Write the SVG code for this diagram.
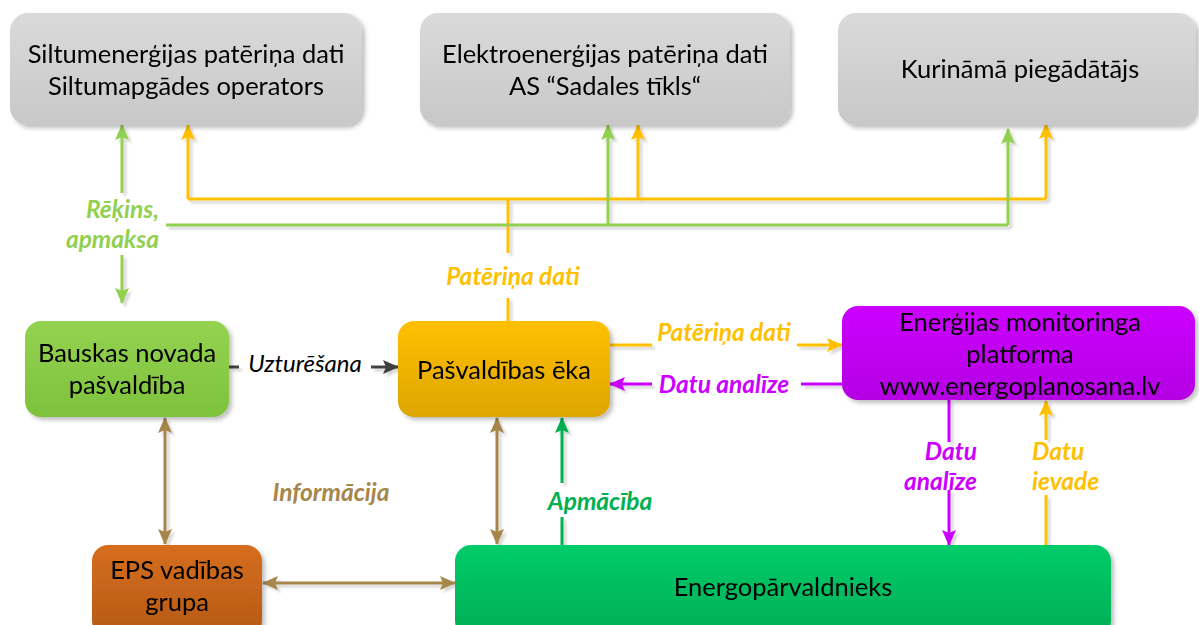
<svg xmlns="http://www.w3.org/2000/svg" width="1199" height="625" viewBox="0 0 1199 625">
<defs>
<linearGradient id="gGray" x1="0" y1="0" x2="0" y2="1"><stop offset="0" stop-color="#dadada"/><stop offset="1" stop-color="#c8c8c8"/></linearGradient>
<linearGradient id="gLime" x1="0" y1="0" x2="0" y2="1"><stop offset="0" stop-color="#94d251"/><stop offset="1" stop-color="#7ec23c"/></linearGradient>
<linearGradient id="gAmber" x1="0" y1="0" x2="0" y2="1"><stop offset="0" stop-color="#ffc000"/><stop offset="1" stop-color="#dda600"/></linearGradient>
<linearGradient id="gMag" x1="0" y1="0" x2="0" y2="1"><stop offset="0" stop-color="#cc00ff"/><stop offset="1" stop-color="#b400e2"/></linearGradient>
<linearGradient id="gRust" x1="0" y1="0" x2="0" y2="1"><stop offset="0" stop-color="#d66e1e"/><stop offset="1" stop-color="#b45a16"/></linearGradient>
<linearGradient id="gEmer" x1="0" y1="0" x2="0" y2="1"><stop offset="0" stop-color="#00cc6a"/><stop offset="1" stop-color="#00ad55"/></linearGradient>
<filter id="sh" x="-10%" y="-10%" width="130%" height="140%"><feDropShadow dx="3" dy="3" stdDeviation="2" flood-color="#000" flood-opacity="0.25"/></filter>
<filter id="lsh" x="-20%" y="-20%" width="140%" height="140%"><feDropShadow dx="3" dy="3" stdDeviation="1" flood-color="#000" flood-opacity="0.15"/></filter>
<marker id="aY" viewBox="0 0 16 14" markerWidth="16" markerHeight="14" refX="15" refY="7" orient="auto-start-reverse" markerUnits="userSpaceOnUse"><path d="M0,0 L16,7 L0,14 L3,7 z" fill="#ffc000"/></marker>
<marker id="aL" viewBox="0 0 16 14" markerWidth="16" markerHeight="14" refX="15" refY="7" orient="auto-start-reverse" markerUnits="userSpaceOnUse"><path d="M0,0 L16,7 L0,14 L3,7 z" fill="#92d050"/></marker>
<marker id="aM" viewBox="0 0 16 14" markerWidth="16" markerHeight="14" refX="15" refY="7" orient="auto-start-reverse" markerUnits="userSpaceOnUse"><path d="M0,0 L16,7 L0,14 L3,7 z" fill="#cc00ff"/></marker>
<marker id="aB" viewBox="0 0 16 14" markerWidth="16" markerHeight="14" refX="15" refY="7" orient="auto-start-reverse" markerUnits="userSpaceOnUse"><path d="M0,0 L16,7 L0,14 L3,7 z" fill="#a6864a"/></marker>
<marker id="aG" viewBox="0 0 16 14" markerWidth="16" markerHeight="14" refX="15" refY="7" orient="auto-start-reverse" markerUnits="userSpaceOnUse"><path d="M0,0 L16,7 L0,14 L3,7 z" fill="#00b050"/></marker>
<marker id="aD" viewBox="0 0 16 14" markerWidth="16" markerHeight="14" refX="15" refY="7" orient="auto-start-reverse" markerUnits="userSpaceOnUse"><path d="M0,0 L16,7 L0,14 L3,7 z" fill="#404040"/></marker>
</defs>
<style>
.nt{font-family:Lato,"Noto Sans",sans-serif;font-size:25.5px;fill:#000;text-anchor:middle}
.lb{font-family:Lato,"Noto Sans",sans-serif;font-size:24.5px;font-weight:bold;font-style:italic}
.c{fill:none;stroke-width:3}
.y{stroke:#ffc000}.l{stroke:#92d050}.m{stroke:#cc00ff}.b{stroke:#a6864a}.g{stroke:#00b050}.d{stroke:#404040}
</style>
<rect width="1199" height="625" fill="#fff"/>

<g id="connectors" filter="url(#lsh)">
<path class="c y" d="M508,321 V298 M508,253 V199 M188,199 H1046"/>
<path class="c y" d="M188,199 V125" marker-end="url(#aY)"/>
<path class="c y" d="M638,199 V125" marker-end="url(#aY)"/>
<path class="c y" d="M1046,199 V124" marker-end="url(#aY)"/>
<path class="c l" d="M122,193 V125" marker-end="url(#aL)"/>
<path class="c l" d="M122,255 V303" marker-end="url(#aL)"/>
<path class="c l" d="M166,225 H1008"/>
<path class="c l" d="M608,225 V125" marker-end="url(#aL)"/>
<path class="c l" d="M1008,225 V129" marker-end="url(#aL)"/>
<path class="c d" d="M229,367 H239"/>
<path class="c d" d="M371,367 H398" marker-end="url(#aD)"/>
<path class="c y" d="M610,345 H652"/>
<path class="c y" d="M797,345 H842" marker-end="url(#aY)"/>
<path class="c m" d="M842,384 H801"/>
<path class="c m" d="M652,384 H610" marker-end="url(#aM)"/>
<path class="c m" d="M949,400 V442"/>
<path class="c m" d="M949,490 V545" marker-end="url(#aM)"/>
<path class="c y" d="M1046,545 V495"/>
<path class="c y" d="M1046,440 V401" marker-end="url(#aY)"/>
<path class="c b" d="M165,418 V544" marker-start="url(#aB)" marker-end="url(#aB)"/>
<path class="c b" d="M497,418 V544" marker-start="url(#aB)" marker-end="url(#aB)"/>
<path class="c b" d="M263,583 H455" marker-start="url(#aB)" marker-end="url(#aB)"/>
<path class="c g" d="M562,545 V517"/>
<path class="c g" d="M562,483 V418" marker-end="url(#aG)"/>
</g>

<g id="labels">
<text class="lb" x="159" y="218" text-anchor="end" fill="#92d050">Rēķins,</text>
<text class="lb" x="159" y="248" text-anchor="end" fill="#92d050">apmaksa</text>
<text class="lb" x="513" y="285" text-anchor="middle" fill="#ffc000">Patēriņa dati</text>
<text x="305" y="372" text-anchor="middle" style="font-family:Lato,'Noto Sans',sans-serif;font-size:24px;font-style:italic" fill="#000">Uzturēšana</text>
<text class="lb" x="724" y="341" text-anchor="middle" fill="#ffc000">Patēriņa dati</text>
<text class="lb" x="724" y="393" text-anchor="middle" fill="#cc00ff">Datu analīze</text>
<text class="lb" x="977" y="460" text-anchor="end" fill="#cc00ff">Datu</text>
<text class="lb" x="977" y="490" text-anchor="end" fill="#cc00ff">analīze</text>
<text class="lb" x="1032" y="460" fill="#ffc000">Datu</text>
<text class="lb" x="1032" y="490" fill="#ffc000">ievade</text>
<text class="lb" x="331" y="501" text-anchor="middle" fill="#a6864a">Informācija</text>
<text class="lb" x="600" y="510" text-anchor="middle" fill="#00b050">Apmācība</text>
</g>

<g id="n-siltum" filter="url(#sh)">
<rect x="10" y="13" width="352" height="112" rx="18" fill="url(#gGray)"/>
<text class="nt" x="186" y="63">Siltumenerģijas patēriņa dati</text>
<text class="nt" x="186" y="95">Siltumapgādes operators</text>
</g>
<g id="n-elektro" filter="url(#sh)">
<rect x="420" y="13" width="370" height="112" rx="18" fill="url(#gGray)"/>
<text class="nt" x="605" y="63">Elektroenerģijas patēriņa dati</text>
<text class="nt" x="605" y="95">AS “Sadales tīkls“</text>
</g>
<g id="n-kurinamais" filter="url(#sh)">
<rect x="838" y="13" width="358" height="112" rx="18" fill="url(#gGray)"/>
<text class="nt" x="1020" y="78">Kurināmā piegādātājs</text>
</g>
<g id="n-bauska" filter="url(#sh)">
<rect x="25" y="321" width="204" height="96" rx="16" fill="url(#gLime)"/>
<text class="nt" x="127" y="362">Bauskas novada</text>
<text class="nt" x="127" y="394">pašvaldība</text>
</g>
<g id="n-eka" filter="url(#sh)">
<rect x="398" y="321" width="212" height="96" rx="16" fill="url(#gAmber)"/>
<text class="nt" x="504" y="379">Pašvaldības ēka</text>
</g>
<g id="n-platforma" filter="url(#sh)">
<rect x="842" y="306" width="353" height="94" rx="16" fill="url(#gMag)"/>
<text class="nt" x="1020" y="331">Enerģijas monitoringa</text>
<text class="nt" x="1020" y="363">platforma</text>
<text class="nt" x="1020" y="395">www.energoplanosana.lv</text>
</g>
<g id="n-eps" filter="url(#sh)">
<rect x="92" y="545" width="170" height="92" rx="16" fill="url(#gRust)"/>
<text class="nt" x="177" y="579">EPS vadības</text>
<text class="nt" x="177" y="611">grupa</text>
</g>
<g id="n-energo" filter="url(#sh)">
<rect x="455" y="545" width="656" height="92" rx="16" fill="url(#gEmer)"/>
<text class="nt" x="783" y="596">Energopārvaldnieks</text>
</g>
</svg>
